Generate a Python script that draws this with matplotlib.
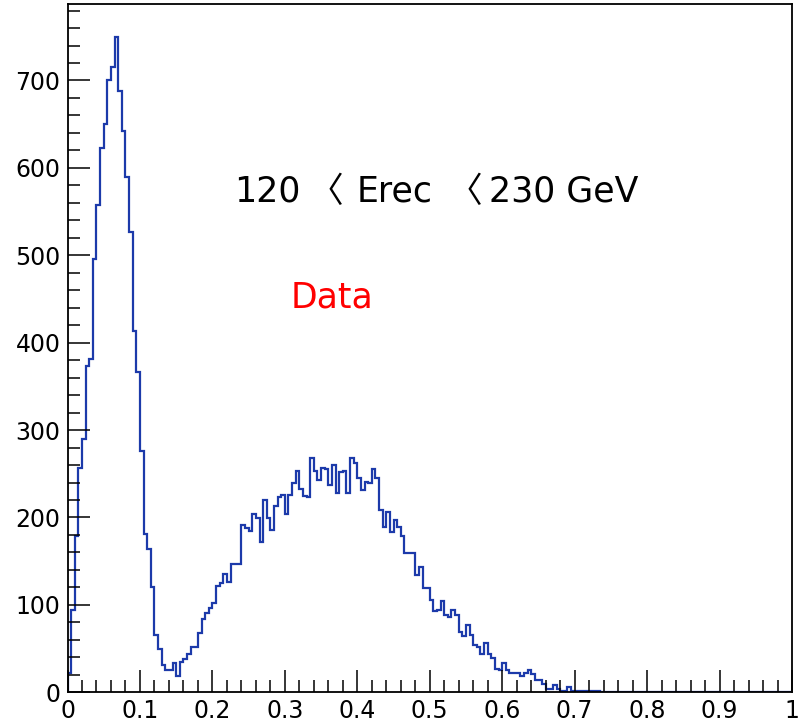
import numpy as np
import matplotlib
matplotlib.use('Agg')
import matplotlib.pyplot as plt

# histogram: 200 bins on [0, 1], counts (bins after the list are empty)
n_bins = 200
x_min, x_max = 0.0, 1.0

counts = [22, 94, 179, 257, 290, 373, 381, 496, 557, 623,
          650, 700, 715, 750, 688, 642, 590, 527, 413, 367,
          276, 181, 164, 120, 66, 50, 31, 25, 25, 34,
          19, 35, 38, 44, 52, 52, 68, 84, 91, 97,
          102, 122, 125, 135, 126, 147, 147, 147, 191, 188,
          185, 204, 199, 172, 220, 199, 186, 213, 224, 226,
          204, 226, 239, 253, 233, 225, 223, 268, 253, 243,
          257, 255, 237, 260, 228, 252, 253, 228, 268, 262,
          245, 231, 241, 239, 255, 245, 209, 189, 206, 183,
          197, 189, 179, 159, 159, 159, 134, 143, 119, 119,
          106, 93, 94, 104, 88, 86, 94, 89, 69, 64,
          77, 65, 54, 52, 44, 56, 44, 39, 27, 25,
          33, 25, 22, 22, 22, 19, 22, 25, 21, 14,
          14, 10, 4, 4, 8, 4, 2, 2, 6, 2,
          1, 2, 1, 2, 1, 1, 1]

# pieces of the energy-range label, and where each starts (x in axis units)
range_parts = ["120", "\u3008", "Erec", "\u3008", "230 GeV"]
range_x = [0.2297, 0.3331, 0.3990, 0.5241, 0.5822]
label_data = "Data"

# ---------------------------------------------------------------
h = np.zeros(n_bins)
h[:len(counts)] = counts
edges = np.linspace(x_min, x_max, n_bins + 1)

fig = plt.figure(figsize=(8, 7.25), dpi=100)
ax = fig.add_axes([0.0844, 0.0451, 0.9056, 0.9494])

ax.stairs(h, edges, color='#1c3aaa', linewidth=1.6)

ax.set_xlim(x_min, x_max)
ax.set_ylim(0, h.max() * 1.05)

ax.set_xticks(np.arange(0, 1.01, 0.1))
ax.set_xticks(np.arange(0, 1.001, 0.02), minor=True)
ax.set_xticklabels(['0', '0.1', '0.2', '0.3', '0.4', '0.5', '0.6', '0.7', '0.8', '0.9', '1'])
ax.set_yticks(np.arange(0, 701, 100))
ax.set_yticks(np.arange(0, 781, 20), minor=True)

ax.tick_params(which='both', direction='in', top=False, right=False, width=1.1)
ax.tick_params(which='major', length=16, labelsize=17, pad=5)
ax.tick_params(which='minor', length=8.3)
for lab in ax.get_xticklabels() + ax.get_yticklabels():
    lab.set_family('DejaVu Sans')
for s in ax.spines.values():
    s.set_linewidth(1.3)

for txt, xp in zip(range_parts, range_x):
    ax.text(xp, 561, txt, fontsize=25, color='black', va='baseline',
            family=['DejaVu Sans', 'Noto Sans CJK JP'] if txt != "\u3008" else ['Noto Sans CJK JP'])
ax.text(0.3084, 440, label_data, fontsize=25, color='red', va='baseline',
        family='DejaVu Sans')

plt.savefig('out.png', dpi=100)
